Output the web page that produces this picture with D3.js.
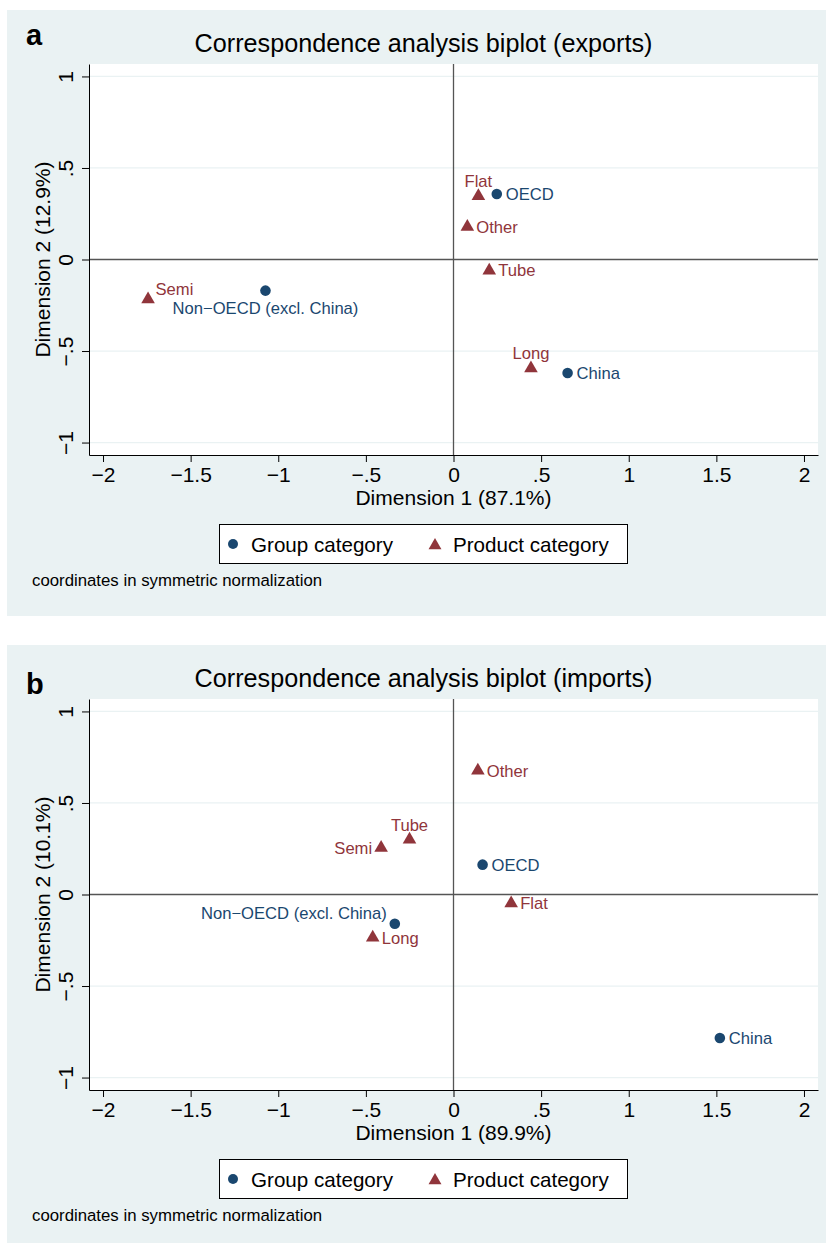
<!DOCTYPE html>
<html>
<head>
<meta charset="utf-8">
<script src="https://cdn.jsdelivr.net/npm/d3@7"></script>
<style>
  body { margin: 0; background: #fff; }
  svg { display: block; font-family: "Liberation Sans", Arial, Helvetica, sans-serif; }
</style>
</head>
<body>
<div id="chart"></div>
<script>
// axis ticks
const xTicks = [-2, -1.5, -1, -0.5, 0, 0.5, 1, 1.5, 2];
const xTickLabels = ["\u22122", "\u22121.5", "\u22121", "\u2212.5", "0", ".5", "1", "1.5", "2"];
const yTicks = [-1, -0.5, 0, 0.5, 1];
const yTickLabels = ["\u22121", "\u2212.5", "0", ".5", "1"];

// categories
const groupNames = ["OECD", "China", "Non\u2212OECD (excl. China)"];
const productNames = ["Flat", "Other", "Tube", "Long", "Semi"];

// exports coordinates
const exportsGroupDim1 = [0.247, 0.651, -1.073];
const exportsGroupDim2 = [0.358, -0.620, -0.170];
const exportsProductDim1 = [0.142, 0.079, 0.204, 0.442, -1.743];
const exportsProductDim2 = [0.346, 0.179, -0.060, -0.595, -0.218];

// imports coordinates
const importsGroupDim1 = [0.166, 1.520, -0.335];
const importsGroupDim2 = [0.163, -0.784, -0.160];
const importsProductDim1 = [0.329, 0.139, -0.251, -0.461, -0.413];
const importsProductDim2 = [-0.048, 0.677, 0.300, -0.235, 0.255];

const navy = "#1a476f";
const maroon = "#90353b";
const bgColor = "#eaf2f3";

// marker label clock positions
const exportsLabelPos = {"OECD": 3, "China": 3, "Non\u2212OECD (excl. China)": 6,
  "Flat": 12, "Other": 3, "Tube": 3, "Long": 12, "Semi": 2};
const importsLabelPos = {"OECD": 3, "China": 3, "Non\u2212OECD (excl. China)": 10,
  "Flat": 3, "Other": 3, "Tube": 12, "Long": 3, "Semi": 9};

const W = 826, H = 1243;
const svg = d3.select("#chart").append("svg")
  .attr("width", W).attr("height", H);

const plot = {left: 89, right: 818, top: 64, bottom: 455};

const x = d3.scaleLinear().domain([-2.08, 2.08]).range([plot.left, plot.right]);
const y = d3.scaleLinear().domain([-1.068, 1.068]).range([plot.bottom, plot.top]);

function labelOffset(pos) {
  switch (pos) {
    case 3: return {dx: 9, dy: 6, anchor: "start"};
    case 9: return {dx: -9, dy: 6, anchor: "end"};
    case 12: return {dx: 0, dy: -9, anchor: "middle"};
    case 6: return {dx: 0, dy: 23, anchor: "middle"};
    case 2: return {dx: 7.5, dy: -4.5, anchor: "start"};
    case 10: return {dx: -8, dy: -4.7, anchor: "end"};
  }
}

function drawPanel(cfg) {
  const root = svg.append("g").attr("transform", "translate(0," + cfg.offset + ")");

  root.append("rect")
    .attr("x", 7).attr("y", 10)
    .attr("width", W - 7).attr("height", cfg.bgHeight)
    .attr("fill", bgColor);

  root.append("rect")
    .attr("x", plot.left).attr("y", plot.top)
    .attr("width", plot.right - plot.left).attr("height", plot.bottom - plot.top)
    .attr("fill", "#fff");

  // panel letter
  root.append("text")
    .attr("x", 26).attr("y", cfg.letterY)
    .attr("font-size", 29).attr("font-weight", "bold")
    .text(cfg.letter);

  // title
  root.append("text")
    .attr("x", 423.5).attr("y", 52)
    .attr("text-anchor", "middle")
    .attr("font-size", 25.2)
    .text(cfg.title);

  // grid
  root.append("g").selectAll("line")
    .data(yTicks)
    .enter().append("line")
    .attr("x1", plot.left).attr("x2", plot.right)
    .attr("y1", d => y(d)).attr("y2", d => y(d))
    .attr("stroke", bgColor).attr("stroke-width", 1.2);

  // zero reference lines
  root.append("line")
    .attr("x1", plot.left).attr("x2", plot.right)
    .attr("y1", y(0)).attr("y2", y(0))
    .attr("stroke", "#555").attr("stroke-width", 1.3);
  root.append("line")
    .attr("x1", x(0)).attr("x2", x(0))
    .attr("y1", plot.top).attr("y2", plot.bottom)
    .attr("stroke", "#555").attr("stroke-width", 1.3);

  // axes
  const xAxis = root.append("g")
    .attr("transform", "translate(0," + plot.bottom + ")")
    .call(d3.axisBottom(x).tickValues(xTicks)
      .tickFormat((d, i) => xTickLabels[i])
      .tickSize(7).tickSizeOuter(0));
  xAxis.selectAll("text")
    .attr("y", 27).attr("dy", null)
    .attr("font-size", 21).attr("fill", "#000");

  const yAxis = root.append("g")
    .attr("transform", "translate(" + plot.left + ",0)")
    .call(d3.axisLeft(y).tickValues(yTicks)
      .tickFormat((d, i) => yTickLabels[i])
      .tickSize(7).tickSizeOuter(0));
  yAxis.selectAll("text")
    .attr("x", null).attr("dy", null)
    .attr("text-anchor", "middle")
    .attr("transform", "translate(-16.5,0) rotate(-90)")
    .attr("font-size", 21).attr("fill", "#000");

  root.selectAll(".domain, .tick line")
    .attr("stroke", "#000").attr("stroke-width", 1);
  xAxis.attr("font-family", null);
  yAxis.attr("font-family", null);

  // axis titles
  root.append("text")
    .attr("x", (plot.left + plot.right) / 2).attr("y", 504.5)
    .attr("text-anchor", "middle").attr("font-size", 21)
    .text(cfg.xTitle);
  root.append("text")
    .attr("transform", "translate(49.5," + (plot.top + plot.bottom) / 2 + ") rotate(-90)")
    .attr("text-anchor", "middle").attr("font-size", 21)
    .text(cfg.yTitle);

  // points
  const groups = groupNames.map((n, i) => ({name: n, d1: cfg.g1[i], d2: cfg.g2[i], type: "group"}));
  const products = productNames.map((n, i) => ({name: n, d1: cfg.p1[i], d2: cfg.p2[i], type: "product"}));
  const pts = groups.concat(products);

  const circle = d3.symbol(d3.symbolCircle, 88);
  const tri = d3.symbol(d3.symbolTriangle, 80);

  root.append("g").selectAll("path")
    .data(pts)
    .enter().append("path")
    .attr("transform", d => "translate(" + x(d.d1) + "," + y(d.d2) + ")")
    .attr("d", d => d.type === "group" ? circle() : tri())
    .attr("fill", d => d.type === "group" ? navy : maroon);

  root.append("g").selectAll("text")
    .data(pts)
    .enter().append("text")
    .each(function(d) {
      const o = labelOffset(cfg.labelPos[d.name]);
      d3.select(this)
        .attr("x", x(d.d1) + o.dx)
        .attr("y", y(d.d2) + o.dy)
        .attr("text-anchor", o.anchor);
    })
    .attr("font-size", 16.6)
    .attr("fill", d => d.type === "group" ? navy : maroon)
    .text(d => d.name);

  // legend
  const lg = root.append("g");
  lg.append("rect")
    .attr("x", 219.5).attr("y", 524.5)
    .attr("width", 408).attr("height", 39)
    .attr("fill", "#fff").attr("stroke", "#000").attr("stroke-width", 1);
  lg.append("path")
    .attr("transform", "translate(233,544)")
    .attr("d", d3.symbol(d3.symbolCircle, 78)())
    .attr("fill", navy);
  lg.append("text")
    .attr("x", 251).attr("y", 551.5).attr("font-size", 20.6)
    .text("Group category");
  lg.append("path")
    .attr("transform", "translate(435,545.5)")
    .attr("d", d3.symbol(d3.symbolTriangle, 72)())
    .attr("fill", maroon);
  lg.append("text")
    .attr("x", 453).attr("y", 551.5).attr("font-size", 20.6)
    .text("Product category");

  // note
  root.append("text")
    .attr("x", 32).attr("y", 586)
    .attr("font-size", 16.8)
    .text("coordinates in symmetric normalization");
}

drawPanel({
  offset: 0, bgHeight: 606,
  letter: "a", letterY: 45,
  title: "Correspondence analysis biplot (exports)",
  xTitle: "Dimension 1 (87.1%)", yTitle: "Dimension 2 (12.9%)",
  g1: exportsGroupDim1, g2: exportsGroupDim2,
  p1: exportsProductDim1, p2: exportsProductDim2,
  labelPos: exportsLabelPos
});

drawPanel({
  offset: 635, bgHeight: 600,
  letter: "b", letterY: 59,
  title: "Correspondence analysis biplot (imports)",
  xTitle: "Dimension 1 (89.9%)", yTitle: "Dimension 2 (10.1%)",
  g1: importsGroupDim1, g2: importsGroupDim2,
  p1: importsProductDim1, p2: importsProductDim2,
  labelPos: importsLabelPos
});
</script>
</body>
</html>
